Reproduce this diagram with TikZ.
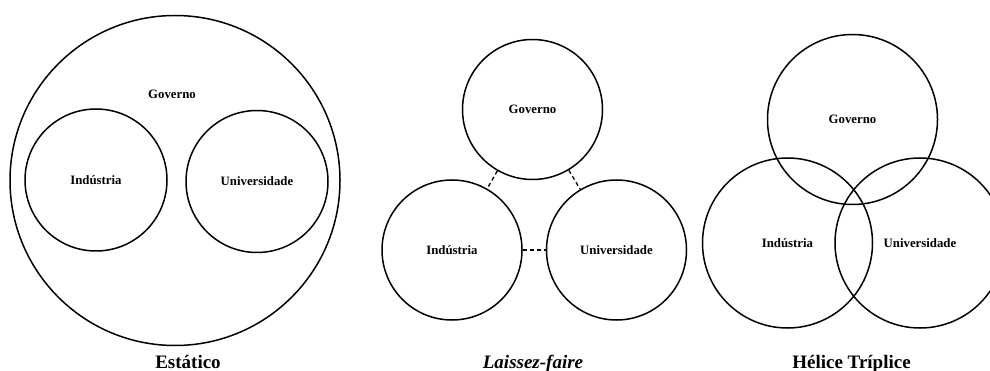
\documentclass[tikz,border=0pt]{standalone}
\usepackage{fontspec}
\setmainfont{Liberation Serif}
\begin{document}
\begin{tikzpicture}[x=1pt,y=-1pt,
  sphere/.style={circle,draw,line width=1.5pt,inner sep=0pt,font=\fontsize{12.8}{15}\selectfont\bfseries},
  tag/.style={font=\fontsize{12.8}{15}\selectfont\bfseries},
  caption/.style={font=\fontsize{19}{22}\selectfont\bfseries,anchor=base},
  link/.style={line width=1.3pt,dash pattern=on 4pt off 3pt}]
  \useasboundingbox (0,0) rectangle (990,371);
  \clip (0,0) rectangle (990,371);

  % Static model: state contains industry and university
  \node[sphere,minimum size=330pt] (sG) at (175,180.5) {};
  \node[tag] (sGt) at (172,94) {Governo};
  \node[sphere,minimum size=142pt] (sI) at (96,180) {Indústria};
  \node[sphere,minimum size=142pt] (sU) at (257,181.5) {Universidade};
  \node[caption] (sC) at (188,368) {Estático};

  % Laissez-faire model: separate spheres with weak ties
  \node[sphere,minimum size=140pt] (lG) at (532.5,109.5) {Governo};
  \node[sphere,minimum size=140pt] (lI) at (452,250) {Indústria};
  \node[sphere,minimum size=140pt] (lU) at (616.5,250) {Universidade};
  \draw[link] (lG) -- (lI);
  \draw[link] (lG) -- (lU);
  \draw[link] (lI) -- (lU);
  \node[caption,font=\fontsize{19}{22}\selectfont\bfseries\itshape] (lC) at (533,368) {Laissez-faire};

  % Triple helix: overlapping spheres
  \node[sphere,minimum size=170pt] (hG) at (852.5,119.5) {Governo};
  \node[sphere,minimum size=170pt] (hI) at (787.5,243) {Indústria};
  \node[sphere,minimum size=170pt] (hU) at (920,243) {Universidade};
  \node[caption] (hC) at (851.5,368) {Hélice Tríplice};
\end{tikzpicture}
\end{document}
